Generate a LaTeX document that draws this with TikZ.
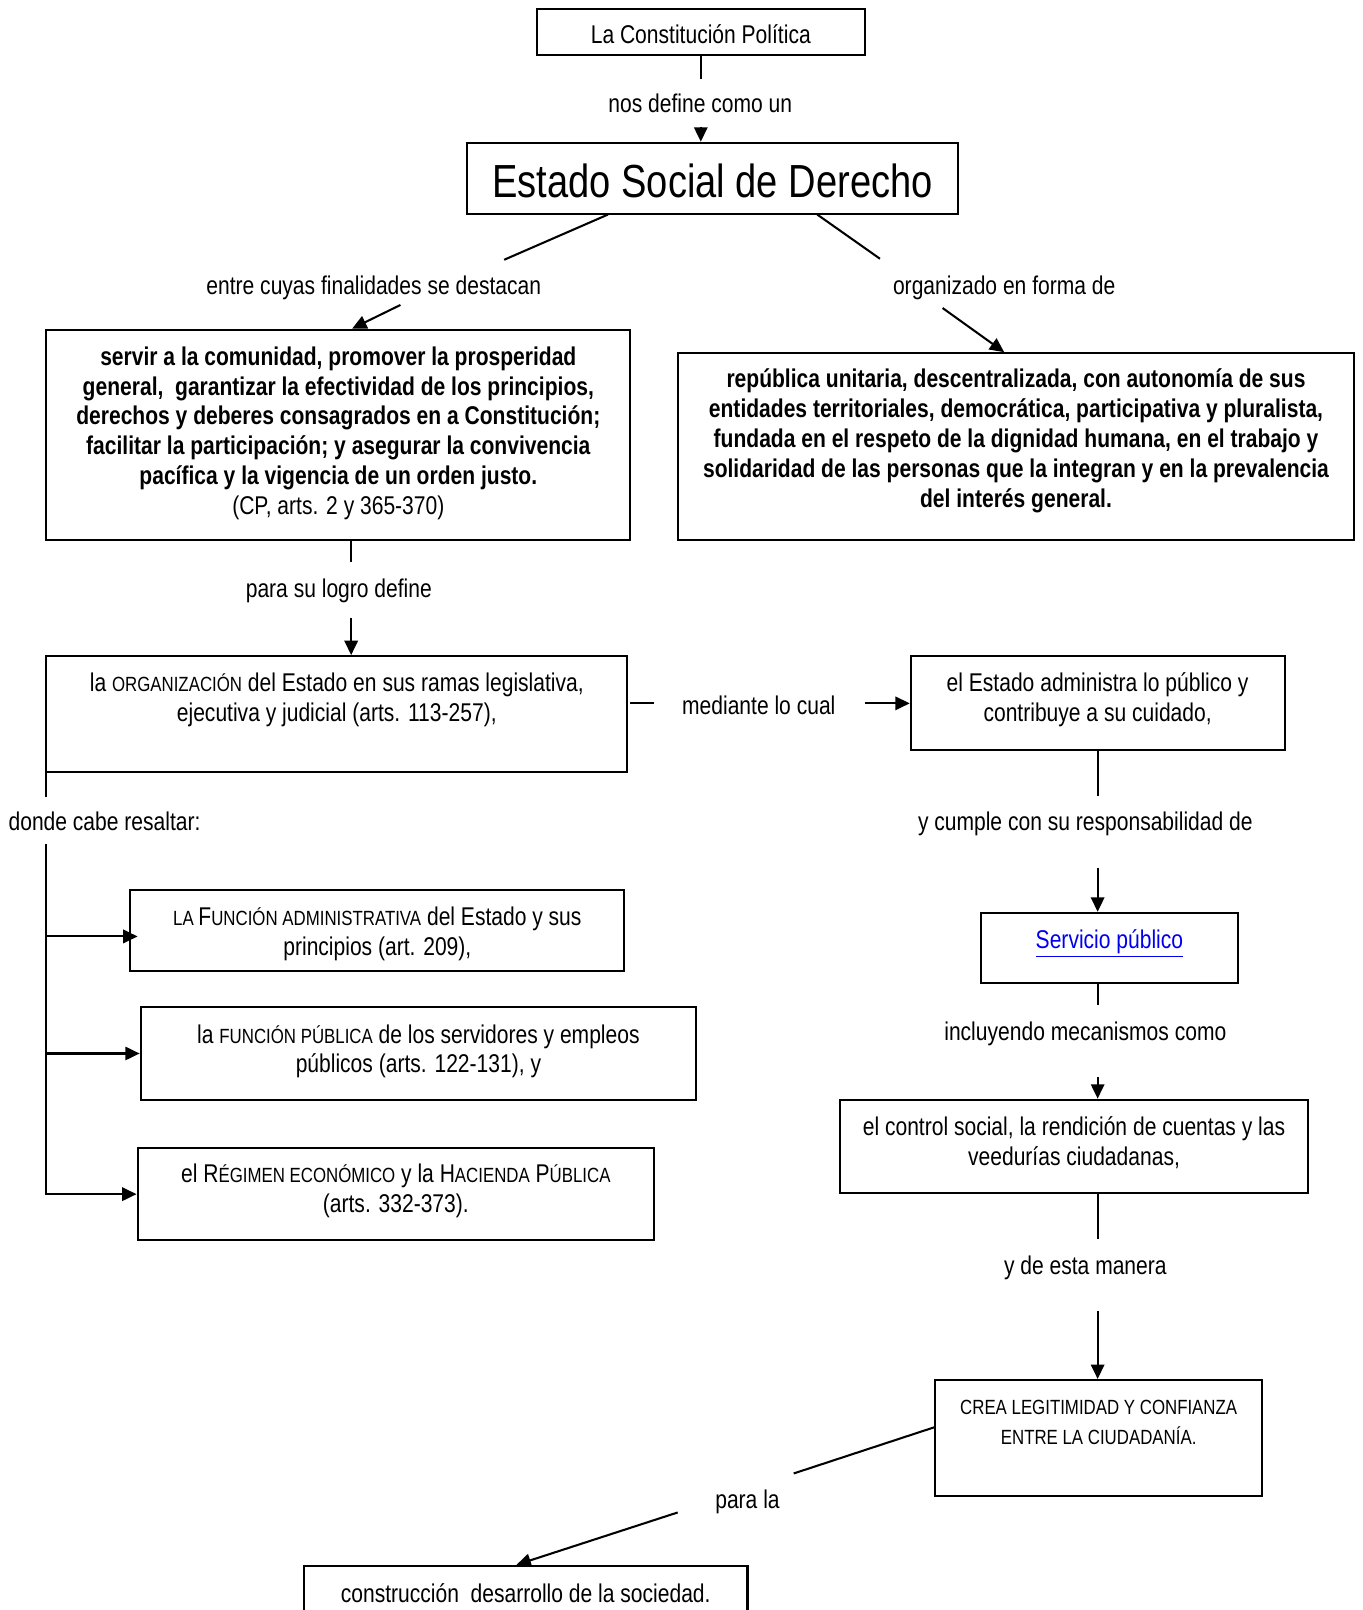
\documentclass[tikz,border=0pt]{standalone}
\usepackage{fontspec}
\setmainfont[FakeStretch=0.82]{Liberation Sans}
\usetikzlibrary{arrows.meta}
\definecolor{linkblue}{RGB}{0,0,238}
\newcommand\smc[1]{{\fontsize{10}{14.5}\selectfont #1}}
\newcommand\btx[4]{\parbox[c][#1][t]{#2}{\centering\vspace*{#3}\rule{0pt}{10pt}#4\par}}
\begin{document}
\begin{tikzpicture}[x=0.5pt,y=-0.5pt,
  box/.style={draw, line width=1pt, inner sep=0pt, font=\fontsize{12.5}{14.5}\selectfont},
  lbl/.style={inner sep=0pt, font=\fontsize{12.5}{14.5}\selectfont, anchor=base},
  conn/.style={line width=1pt},
  arr/.style={line width=1pt, -{Triangle[length=7pt,width=6.5pt]}}]
\path[use as bounding box, fill=white] (0,0) rectangle (1327,1568);
\clip (0,0) rectangle (1327,1568);

% boxes
\node[box] (lcp) at (682.5,31.5) {\btx{22.5pt}{159.5pt}{6.9pt}{La Constitución Política}};
\node[box] (esd) at (694,173.5) {\parbox[c][34.5pt][t]{239pt}{\centering\vspace*{10.1pt}\rule{0pt}{16.5pt}{\fontsize{22.6}{26}\selectfont Estado Social de Derecho}\par}};
\node[box] (A) at (329.5,423.5) {\btx{102.5pt}{284.5pt}{7.4pt}{\bfseries servir a la comunidad, promover la prosperidad\\general,\ \ garantizar la efectividad de los principios,\\derechos y deberes consagrados en a Constitución;\\facilitar la participación; y asegurar la convivencia\\pacífica y la vigencia de un orden justo.\\\mdseries (CP, arts. 2 y 365-370)}};
\node[box] (B) at (989.5,435) {\btx{91pt}{329.5pt}{6.9pt}{\bfseries república unitaria, descentralizada, con autonomía de sus\\entidades territoriales, democrática, participativa y pluralista,\\fundada en el respeto de la dignidad humana, en el trabajo y\\solidaridad de las personas que la integran y en la prevalencia\\del interés general.}};
\node[box] (C) at (328,695.5) {\btx{56.5pt}{283pt}{7.4pt}{la \smc{ORGANIZACIÓN} del Estado en sus ramas legislativa,\\ejecutiva y judicial (arts. 113-257),}};
\node[box] (D) at (1069,684.5) {\btx{45.5pt}{182pt}{7.4pt}{el Estado administra lo público y\\contribuye a su cuidado,}};
\node[box] (E) at (1080.5,923) {\btx{34pt}{125.5pt}{7.4pt}{\textcolor{linkblue}{\underline{Servicio público}}}};
\node[box] (F) at (1046,1116.5) {\btx{45.5pt}{228pt}{7.4pt}{el control social, la rendición de cuentas y las\\veedurías ciudadanas,}};
\node[box] (G) at (1070,1400.5) {\btx{56.5pt}{159pt}{6.6pt}{\fontsize{10}{15}\selectfont CREA LEGITIMIDAD Y CONFIANZA\\ENTRE LA CIUDADANÍA.}};
\node[box] (H) at (512,1562.5) {\btx{37.5pt}{216pt}{7.9pt}{construcción\ \ desarrollo de la sociedad.}};
\node[box] (I) at (367.5,906.5) {\btx{39.5pt}{240.5pt}{7.4pt}{\smc{LA }F\smc{UNCIÓN ADMINISTRATIVA} del Estado y sus\\principios (art. 209),}};
\node[box] (J) at (407.5,1026) {\btx{45pt}{270.5pt}{7.4pt}{la \smc{FUNCIÓN PÚBLICA} de los servidores y empleos\\públicos (arts. 122-131), y}};
\node[box] (K) at (385.5,1163) {\btx{45pt}{251.5pt}{6.9pt}{el R\smc{ÉGIMEN ECONÓMICO} y la H\smc{ACIENDA} P\smc{ÚBLICA}\\(arts. 332-373).}};

% labels
\node[lbl] (l1) at (682,110) {nos define como un};
\node[lbl] (l2) at (364,287) {entre cuyas finalidades se destacan};
\node[lbl] (l3) at (978,287) {organizado en forma de};
\node[lbl] (l4) at (330,582) {para su logro define};
\node[lbl] (l5) at (739,696) {mediante lo cual};
\node[lbl, anchor=base west] (l6) at (8,809) {donde cabe resaltar:};
\node[lbl] (l7) at (1057,809) {y cumple con su responsabilidad de};
\node[lbl] (l8) at (1057,1013) {incluyendo mecanismos como};
\node[lbl] (l9) at (1057,1241) {y de esta manera};
\node[lbl] (l10) at (728,1469) {para la};

% free ends
\coordinate (c1) at (682.5,77);
\coordinate (c2) at (682.5,124);
\coordinate (c4) at (491,253);
\coordinate (c5) at (390,297);
\coordinate (c6) at (857,252);
\coordinate (c7) at (918,300);
\coordinate (c8) at (342,547);
\coordinate (c9) at (342,602);
\coordinate (c10) at (614,685);
\coordinate (c11) at (637,685);
\coordinate (c12) at (842,685);
\coordinate (c13) at (1069,775);
\coordinate (c14) at (1069,845);
\coordinate (c15) at (1069,979);
\coordinate (c16) at (1069,1049);
\coordinate (c17) at (1069,1207);
\coordinate (c18) at (1069,1277);
\coordinate (c19) at (773,1435);
\coordinate (c20) at (660,1473);
\coordinate (c21) at (45,776);
\coordinate (c22) at (45,822);

% connectors
\draw[conn] (lcp.south) -- (c1);
\draw[arr] (c2) -- (c2 |- esd.north);
\draw[conn] (592,0 |- esd.south) -- (c4);
\draw[arr] (c5) -- (343,0 |- A.north);
\draw[conn] (796,0 |- esd.south) -- (c6);
\draw[arr] (c7) -- (978,0 |- B.north);
\draw[conn] (342,0 |- A.south) -- (c8);
\draw[arr] (c9) -- (342,0 |- C.north);
\draw[conn] (c10) -- (c11);
\draw[arr] (c12) -- (D.west |- c12);
\draw[conn] (1069,0 |- D.south) -- (c13);
\draw[arr] (c14) -- (c14 |- E.north);
\draw[conn] (1069,0 |- E.south) -- (c15);
\draw[arr] (c16) -- (c16 |- F.north);
\draw[conn] (1069,0 |- F.south) -- (c17);
\draw[arr] (c18) -- (c18 |- G.north);
\draw[conn] (G.west |- 0,1390) -- (c19);
\draw[arr] (c20) -- (503,0 |- H.north);
\draw[conn] (c21 |- C.south) -- (c21);
\draw[arr] (c22) |- (K.west);
\draw[arr] (45,912) -- ([xshift=4pt]I.west |- 0,912);
\draw[arr] (45,1026) -- (J.west |- 0,1026);
\end{tikzpicture}
\end{document}
